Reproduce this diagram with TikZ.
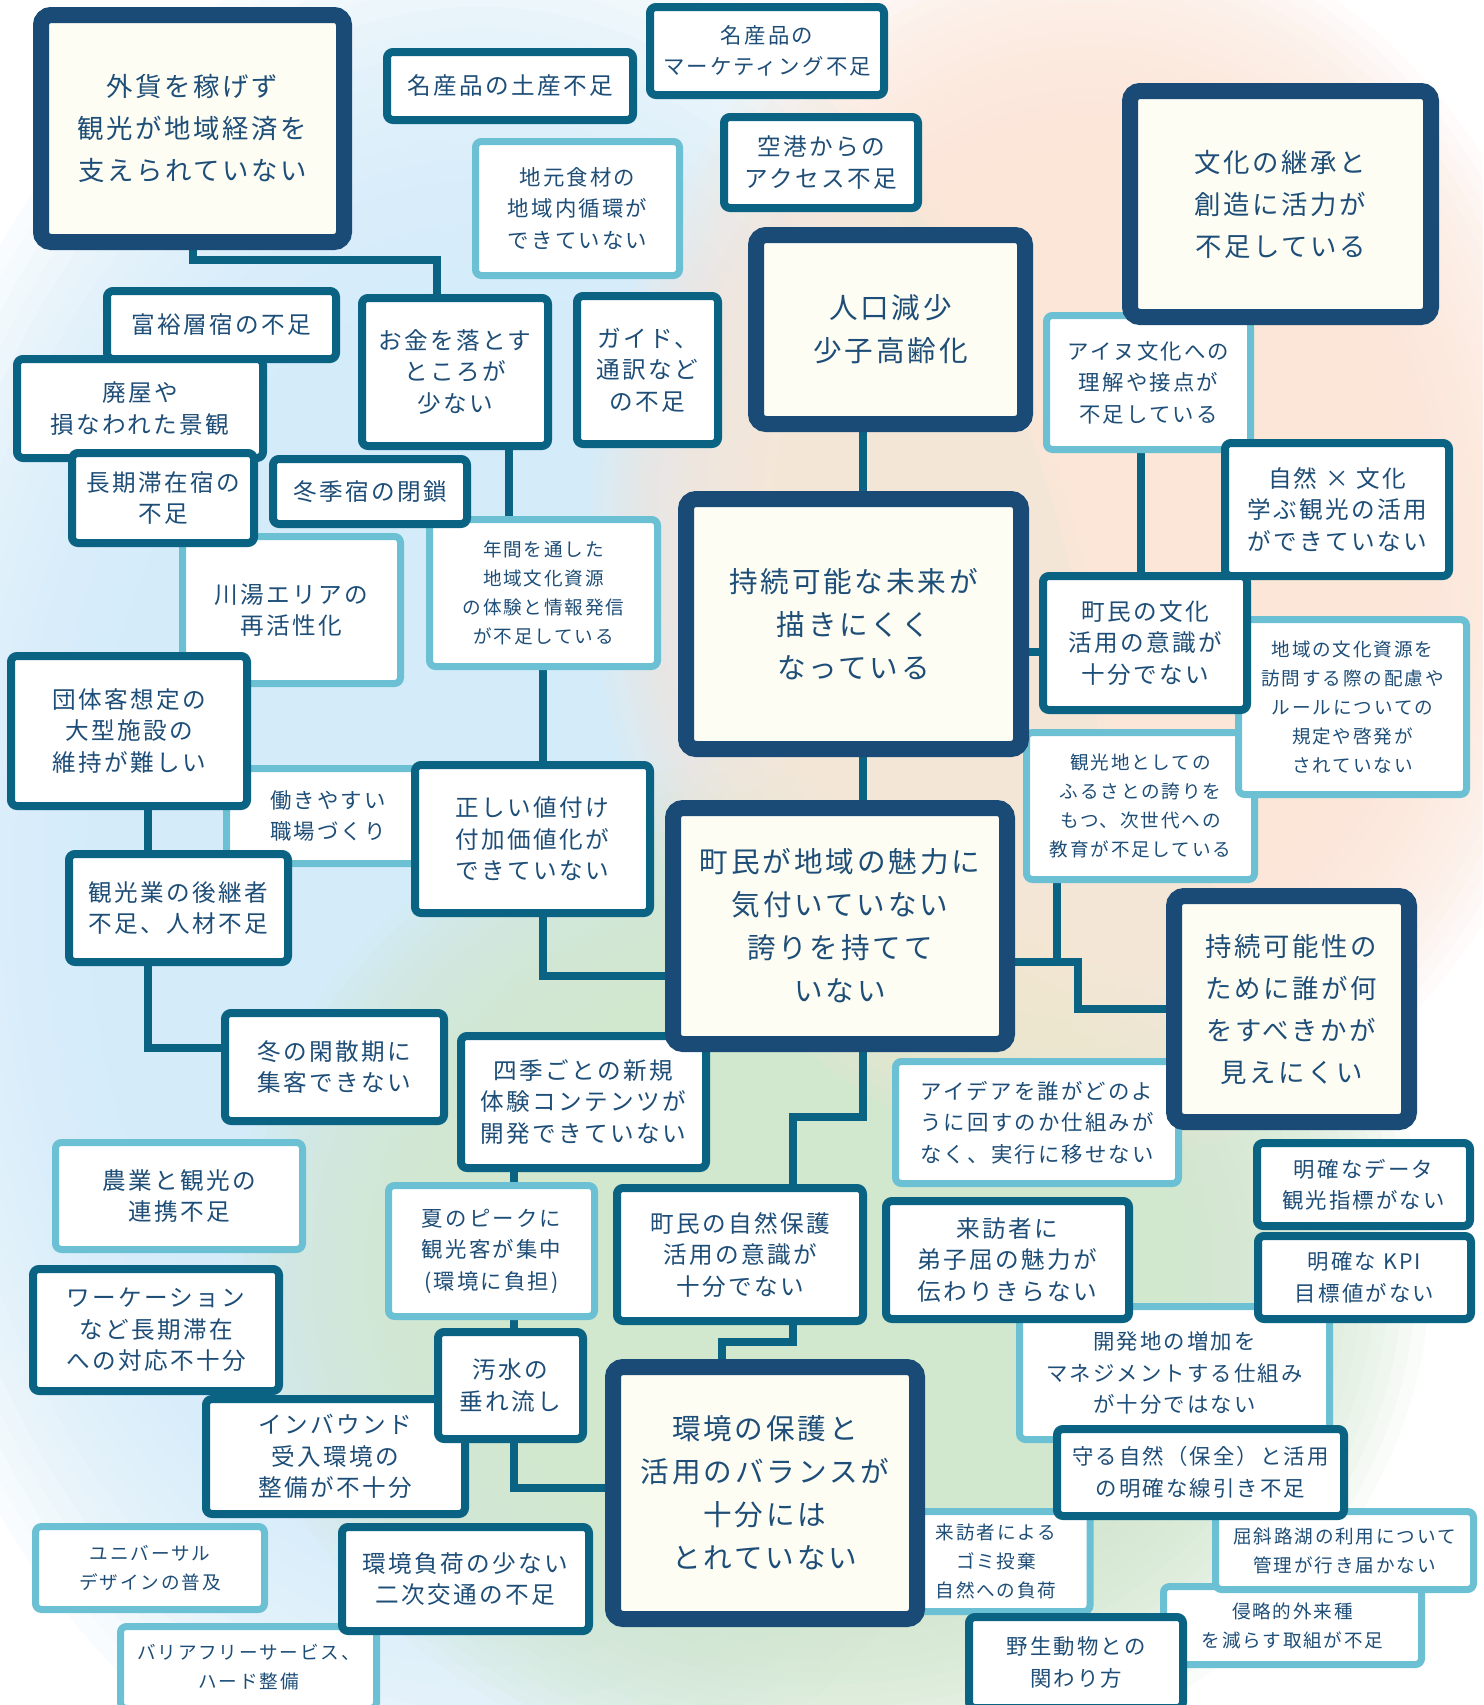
\documentclass[tikz,border=0pt]{standalone}
\usepackage{fontspec}
\newfontfamily\jp[LetterSpace=10]{Noto Sans CJK JP}
\definecolor{navy}{HTML}{1A4B76}
\definecolor{tealb}{HTML}{0B6383}
\definecolor{lightb}{HTML}{6CC0D3}
\definecolor{cream}{HTML}{FDFDF4}
\definecolor{txt}{HTML}{1E4E77}
\definecolor{bgblue}{HTML}{D4ECFA}
\definecolor{bgpeach}{HTML}{FCE6D7}
\definecolor{bggreen}{HTML}{D1E7CE}
\pgfdeclarelayer{bg}
\pgfdeclarelayer{connl}
\pgfsetlayers{bg,connl,main}
\newcommand\fsz[2]{\fontsize{#1}{#2}\selectfont}
\tikzset{
 box/.style={inner sep=0pt, align=center, text=txt},
 mainbox/.style={box, draw=navy, fill=cream, line width=16pt, rounded corners=10pt},
 midbox/.style={box, draw=tealb, fill=white, line width=8pt, rounded corners=6pt},
 litbox/.style={box, draw=lightb, fill=white, line width=7pt, rounded corners=6pt},
 fM1/.style={font=\jp\fsz{26.4}{42}},
 fM2/.style={font=\jp\fsz{28.6}{43}},
 fA/.style={font=\jp\fsz{23.6}{31.5}},
 fB/.style={font=\jp\fsz{21.4}{31.5}},
 fC/.style={font=\jp\fsz{18.6}{29}},
 conn/.style={draw=tealb, line width=7.5pt},
}
\newcommand\softblob[5]{% color, cx, cy, rx, ry
  \foreach \k in {0,...,23}{%
    \pgfmathsetmacro\sc{1-0.52*\k/23}%
    \fill[#1, fill opacity=0.12] (#2,#3) ellipse [x radius={#4*\sc}, y radius={#5*\sc}];
  }}
\begin{document}
\begin{tikzpicture}[x=1pt,y=-1pt]
\useasboundingbox (0,0) rectangle (1483,1705);
\begin{pgfonlayer}{bg}
\fill[white] (0,0) rectangle (1483,1705);
\begin{scope}
\clip (0,0) rectangle (1483,1705);
\softblob{bgblue}{480}{880}{640}{960}
\softblob{bggreen}{830}{1270}{600}{520}
\softblob{bgpeach}{1090}{540}{500}{620}
\end{scope}
\end{pgfonlayer}

% light boxes
\node[litbox, fB, minimum width=204pt, minimum height=134pt] (jimoto) at (577.5,208.5) {地元食材の\\地域内循環が\\できていない};
\node[litbox, fB, minimum width=204pt, minimum height=134pt] (ainu) at (1148.5,382.5) {アイヌ文化への\\理解や接点が\\不足している};
\node[litbox, fA, minimum width=218pt, minimum height=147pt] (kawayu) at (291.5,610) {川湯エリアの\\再活性化};
\node[litbox, fC, minimum width=228pt, minimum height=147pt] (nenkan) at (543.5,593) {年間を通した\\地域文化資源\\の体験と情報発信\\が不足している};
\node[litbox, fB, minimum width=203pt, minimum height=95pt] (hataraki) at (328,816) {働きやすい\\職場づくり};
\node[litbox, fC, minimum width=228pt, minimum height=147pt] (kankouchi) at (1140.5,806) {観光地としての\\ふるさとの誇りを\\もつ、次世代への\\教育が不足している};
\node[litbox, fC, minimum width=228pt, minimum height=175pt] (chiiki) at (1352.5,707) {地域の文化資源を\\訪問する際の配慮や\\ルールについての\\規定や啓発が\\されていない};
\node[litbox, fB, minimum width=283pt, minimum height=122pt] (aidea) at (1037,1122.5) {アイデアを誰がどのよ\\うに回すのか仕組みが\\なく、実行に移せない};
\node[litbox, fA, minimum width=247pt, minimum height=107pt] (nougyou) at (179,1196) {農業と観光の\\連携不足};
\node[litbox, fB, minimum width=206pt, minimum height=131pt] (natsu) at (491.5,1251) {夏のピークに\\観光客が集中\\(環境に負担)};
\node[litbox, fB, minimum width=310pt, minimum height=133pt] (kaihatsu) at (1174.5,1373) {開発地の増加を\\マネジメントする仕組み\\が十分ではない};
\node[litbox, fC, minimum width=188pt, minimum height=100pt] (gomi) at (996,1561.5) {来訪者による\\ゴミ投棄\\自然への負荷};
\node[litbox, fC, minimum width=258pt, minimum height=78pt] (shinryaku) at (1292.5,1625.5) {侵略的外来種\\を減らす取組が不足};
\node[litbox, fC, minimum width=258pt, minimum height=78pt] (kussharo) at (1344.5,1550.5) {屈斜路湖の利用について\\管理が行き届かない};
\node[litbox, fC, minimum width=229pt, minimum height=83pt] (universal) at (150,1568) {ユニバーサル\\デザインの普及};
\node[litbox, fC, minimum width=256pt, minimum height=82pt] (barrier) at (248.5,1667.5) {バリアフリーサービス、\\ハード整備};

% medium boxes
\node[midbox, fA, minimum width=246pt, minimum height=68pt] (meisan1) at (510,86) {名産品の土産不足};
\node[midbox, fB, minimum width=234pt, minimum height=88pt] (meisan2) at (767,51) {名産品の\\マーケティング不足};
\node[midbox, fA, minimum width=194pt, minimum height=91pt] (kuukou) at (821,162.5) {空港からの\\アクセス不足};
\node[midbox, fA, minimum width=229pt, minimum height=68pt] (fuyuu) at (221.5,325) {富裕層宿の不足};
\node[midbox, fA, minimum width=246pt, minimum height=99pt] (haioku) at (140,408.5) {廃屋や\\損なわれた景観};
\node[midbox, fA, minimum width=182pt, minimum height=90pt] (choukiyado) at (163,498) {長期滞在宿の\\不足};
\node[midbox, fA, minimum width=186pt, minimum height=148pt] (okane) at (455,372) {お金を落とす\\ところが\\少ない};
\node[midbox, fA, minimum width=141pt, minimum height=148pt] (guide) at (647.5,370) {ガイド、\\通訳など\\の不足};
\node[midbox, fA, minimum width=194pt, minimum height=65pt] (toukiyado) at (370,491.5) {冬季宿の閉鎖};
\node[midbox, fA, minimum width=236pt, minimum height=150pt] (dantai) at (129,731) {団体客想定の\\大型施設の\\維持が難しい};
\node[midbox, fA, minimum width=235pt, minimum height=148pt] (tadashii) at (532.5,839) {正しい値付け\\付加価値化が\\できていない};
\node[midbox, fA, minimum width=219pt, minimum height=108pt] (kankougyou) at (178.5,908) {観光業の後継者\\不足、人材不足};
\node[midbox, fA, minimum width=219pt, minimum height=108pt] (fuyukanzan) at (334.5,1067) {冬の閑散期に\\集客できない};
\node[midbox, fA, minimum width=245pt, minimum height=132pt] (shiki) at (583.5,1102) {四季ごとの新規\\体験コンテンツが\\開発できていない};
\node[midbox, fA, minimum width=246pt, minimum height=133pt] (shizenhogo) at (740,1254.5) {町民の自然保護\\活用の意識が\\十分でない};
\node[midbox, fA, minimum width=243pt, minimum height=118pt] (raihou) at (1007.5,1260) {来訪者に\\弟子屈の魅力が\\伝わりきらない};
\node[midbox, fA, minimum width=224pt, minimum height=133pt] (shizenbunka) at (1337,509.5) {自然 × 文化\\学ぶ観光の活用\\ができていない};
\node[midbox, fA, minimum width=204pt, minimum height=134pt] (machibunka) at (1145,643) {町民の文化\\活用の意識が\\十分でない};
\node[midbox, fB, minimum width=213pt, minimum height=83pt] (data) at (1363.5,1184.5) {明確なデータ\\観光指標がない};
\node[midbox, fB, minimum width=213pt, minimum height=83pt] (kpi) at (1364.5,1277.5) {明確な KPI\\目標値がない};
\node[midbox, fB, minimum width=287pt, minimum height=87pt] (mamoru) at (1200.5,1472.5) {守る自然（保全）と活用\\の明確な線引き不足};
\node[midbox, fB, minimum width=214pt, minimum height=91pt] (yasei) at (1076,1662.5) {野生動物との\\関わり方};
\node[midbox, fA, minimum width=246pt, minimum height=122pt] (workation) at (156,1330) {ワーケーション\\など長期滞在\\への対応不十分};
\node[midbox, fA, minimum width=259pt, minimum height=115pt] (inbound) at (335.5,1456.5) {インバウンド\\受入環境の\\整備が不十分};
\node[midbox, fA, minimum width=145pt, minimum height=107pt] (osui) at (510.5,1385.5) {汚水の\\垂れ流し};
\node[midbox, fA, minimum width=247pt, minimum height=104pt] (kankyoufuka) at (465.5,1579) {環境負荷の少ない\\二次交通の不足};

% main boxes
\node[mainbox, fM1, minimum width=303pt, minimum height=227pt] (gaika) at (192.5,128.5) {外貨を稼げず\\観光が地域経済を\\支えられていない};
\node[mainbox, fM2, minimum width=269pt, minimum height=189pt] (jinkou) at (890.5,329.5) {人口減少\\少子高齢化};
\node[mainbox, fM1, minimum width=301pt, minimum height=226pt] (bunka) at (1280.5,204) {文化の継承と\\創造に活力が\\不足している};
\node[mainbox, fM2, minimum width=335pt, minimum height=250pt] (jizoku) at (853.5,624) {持続可能な未来が\\描きにくく\\なっている};
\node[mainbox, fM2, minimum width=334pt, minimum height=236pt] (choumin) at (840,926) {町民が地域の魅力に\\気付いていない\\誇りを持てて\\いない};
\node[mainbox, fM1, minimum width=235pt, minimum height=226pt] (jizokusei) at (1291.5,1009) {持続可能性の\\ために誰が何\\をすべきかが\\見えにくい};
\node[mainbox, fM2, minimum width=304pt, minimum height=252pt] (kankyou) at (765,1493) {環境の保護と\\活用のバランスが\\十分には\\とれていない};

% connectors
\coordinate (j1) at (193,260);
\coordinate (j2) at (437,260);
\coordinate (j3) at (509,0);
\coordinate (j4) at (543,976);
\coordinate (j6) at (863,1117);
\coordinate (j7) at (0,652);
\coordinate (j8) at (1141,0);
\coordinate (j9) at (1078,962);
\coordinate (j10) at (1078,1009);
\coordinate (j11) at (1057,962);
\coordinate (j12) at (793,1117);
\coordinate (j13) at (793,1342);
\coordinate (j14) at (722,1342);
\coordinate (j15) at (514,1488);
\coordinate (j16) at (148,1048);
\begin{pgfonlayer}{connl}
\draw[conn] (gaika.south -| j1) -- (j1) -- (j2) -- (okane.north -| j2);
\draw[conn] (okane.south -| j3) -- (nenkan.north -| j3);
\draw[conn] (nenkan.south -| j4) -- (tadashii.north -| j4);
\draw[conn] (tadashii.south -| j4) -- (j4) -- (choumin.west |- j4);
\draw[conn] (jinkou.south -| j6) -- (jizoku.north -| j6);
\draw[conn] (jizoku.south -| j6) -- (choumin.north -| j6);
\draw[conn] (jizoku.east |- j7) -- (machibunka.west |- j7);
\draw[conn] (ainu.south -| j8) -- (machibunka.north -| j8);
\draw[conn] (choumin.east |- j9) -- (j9) -- (j10) -- (jizokusei.west |- j10);
\draw[conn] (kankouchi.south -| j11) -- (j11);
\draw[conn] (choumin.south -| j6) -- (j6) -- (j12) -- (shizenhogo.north -| j12);
\draw[conn] (shizenhogo.south -| j13) -- (j13) -- (j14) -- (kankyou.north -| j14);
\draw[conn] (shiki.south -| j15) -- (natsu.north -| j15);
\draw[conn] (natsu.south -| j15) -- (osui.north -| j15);
\draw[conn] (osui.south -| j15) -- (j15) -- (kankyou.west |- j15);
\draw[conn] (dantai.south -| j16) -- (kankougyou.north -| j16);
\draw[conn] (kankougyou.south -| j16) -- (j16) -- (fuyukanzan.west |- j16);
\end{pgfonlayer}
\end{tikzpicture}
\end{document}
